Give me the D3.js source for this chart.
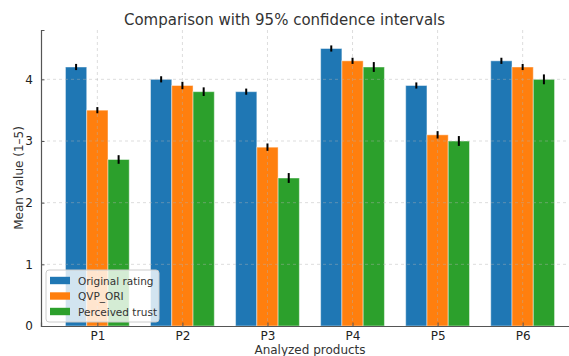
<!DOCTYPE html>
<html>
<head>
<meta charset="utf-8">
<script src="https://cdn.jsdelivr.net/npm/d3@7"></script>
<style>
    body { margin: 0; background: #fff; }
    svg { display: block; font-family: "DejaVu Sans", sans-serif; }
</style>
</head>
<body>
<svg id="chart" width="569" height="356"></svg>
<script>
const products = ["P1", "P2", "P3", "P4", "P5", "P6"];
const seriesNames = ["Original rating", "QVP_ORI", "Perceived trust"];
const originalRating = [4.2, 4.0, 3.8, 4.5, 3.9, 4.3];
const qvpOri = [3.5, 3.9, 2.9, 4.3, 3.1, 4.2];
const perceivedTrust = [2.7, 3.8, 2.4, 4.2, 3.0, 4.0];
const originalCi = [0.05, 0.05, 0.05, 0.05, 0.05, 0.05];
const qvpCi = [0.05, 0.06, 0.06, 0.05, 0.06, 0.05];
const trustCi = [0.07, 0.07, 0.08, 0.08, 0.08, 0.08];
const yTicks = [0, 1, 2, 3, 4];

const colors = ["#1f77b4", "#ff7f0e", "#2ca02c"];
const values = [originalRating, qvpOri, perceivedTrust];
const cis = [originalCi, qvpCi, trustCi];

const plotLeft = 41, plotRight = 579, plotTop = 30, plotBottom = 326;
const svg = d3.select("#chart");

// x as a linear index scale so the padding works like matplotlib
const x = d3.scaleLinear().domain([-0.6625, 5.6625]).range([plotLeft, plotRight]);
const y = d3.scaleLinear().domain([0, 4.8]).range([plotBottom, plotTop]);
const barW = 0.25;

// bars
values.forEach(function (vals, s) {
    svg.append("g").selectAll("rect")
        .data(vals)
        .join("rect")
        .attr("x", function (d, i) { return x(i + (s - 1) * barW - barW / 2); })
        .attr("width", x(barW) - x(0))
        .attr("y", function (d) { return y(d); })
        .attr("height", function (d) { return y(0) - y(d); })
        .attr("fill", colors[s])
        .attr("stroke", "#ffffff")
        .attr("stroke-opacity", 0.45)
        .attr("stroke-width", 1);
});

// grid on top of bars
const grid = svg.append("g").attr("stroke", "#b0b0b0").attr("stroke-opacity", 0.55)
    .attr("stroke-dasharray", "3,3").attr("stroke-width", 0.8);
grid.selectAll(".gy").data(yTicks.slice(1)).join("line")
    .attr("x1", plotLeft).attr("x2", plotRight)
    .attr("y1", function (d) { return y(d); }).attr("y2", function (d) { return y(d); });
grid.selectAll(".gx").data(products).join("line")
    .attr("x1", function (d, i) { return x(i); }).attr("x2", function (d, i) { return x(i); })
    .attr("y1", plotTop).attr("y2", plotBottom);

// error bars
values.forEach(function (vals, s) {
    svg.append("g").selectAll("line")
        .data(vals)
        .join("line")
        .attr("x1", function (d, i) { return x(i + (s - 1) * barW); })
        .attr("x2", function (d, i) { return x(i + (s - 1) * barW); })
        .attr("y1", function (d, i) { return y(d - cis[s][i]); })
        .attr("y2", function (d, i) { return y(d + cis[s][i]); })
        .attr("stroke", "#000")
        .attr("stroke-width", 2);
});

// axes
const yAxis = svg.append("g")
    .attr("transform", `translate(${plotLeft},0)`)
    .call(d3.axisLeft(y).tickValues(yTicks).tickSize(-3.5).tickPadding(8).tickFormat(d3.format("d")));
const xAxis = svg.append("g")
    .attr("transform", `translate(0,${plotBottom})`)
    .call(d3.axisBottom(x).tickValues(d3.range(products.length)).tickSize(-3.5).tickPadding(5)
        .tickFormat(function (d) { return products[d]; }));
[yAxis, xAxis].forEach(function (a) {
    a.select(".domain").attr("stroke", "#555").attr("stroke-width", 1.2);
    a.selectAll(".tick line").attr("stroke", "#555");
    a.selectAll(".tick text").attr("fill", "#222").style("font-size", "12px")
        .style("font-family", "DejaVu Sans");
});

// title and labels
svg.append("text")
    .attr("x", 284.5).attr("y", 25)
    .attr("text-anchor", "middle")
    .attr("fill", "#333")
    .style("font-size", "15px")
    .text("Comparison with 95% confidence intervals");

svg.append("text")
    .attr("x", (plotLeft + plotRight) / 2).attr("y", 354)
    .attr("text-anchor", "middle")
    .attr("fill", "#333")
    .style("font-size", "12px")
    .text("Analyzed products");

svg.append("text")
    .attr("transform", `translate(23,${(plotTop + plotBottom) / 2}) rotate(-90)`)
    .attr("text-anchor", "middle")
    .attr("fill", "#333")
    .style("font-size", "12px")
    .text("Mean value (1–5)");

// legend
const legend = svg.append("g").attr("transform", "translate(46,270)");
legend.append("rect")
    .attr("width", 113).attr("height", 52).attr("rx", 3)
    .attr("fill", "#fff").attr("fill-opacity", 0.8)
    .attr("stroke", "#ccc");
seriesNames.forEach(function (name, s) {
    const row = legend.append("g").attr("transform", `translate(4,${10.5 + s * 15.5})`);
    row.append("rect").attr("x", 0).attr("y", -3.7).attr("width", 20).attr("height", 7.4)
        .attr("fill", colors[s]);
    row.append("text").attr("x", 28).attr("y", 4)
        .attr("fill", "#333").style("font-size", "10.5px").text(name);
});
</script>
</body>
</html>
